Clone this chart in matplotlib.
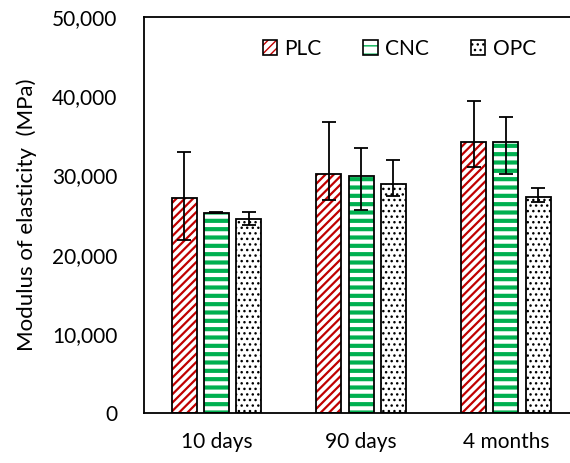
import matplotlib.pyplot as plt
from matplotlib.legend_handler import HandlerTuple
import numpy as np

# data
ages = ["10 days", "90 days", "4 months"]
series = ["PLC", "CNC", "OPC"]
plc = [27200, 30200, 34200]
cnc = [25300, 29900, 34250]
opc = [24550, 28950, 27250]
plc_lo = [5300, 3300, 3150]
plc_hi = [5800, 6600, 5200]
cnc_lo = [100, 4250, 4100]
cnc_hi = [100, 3600, 3100]
opc_lo = [850, 1600, 600]
opc_hi = [800, 3050, 1200]

plt.rcParams['font.family'] = ['Lato', 'DejaVu Sans']

fig = plt.figure(figsize=(5.7, 4.63), dpi=100)
ax = fig.add_axes([0.2526, 0.108, 0.762, 0.855])

x = np.arange(len(ages))
w = 0.173
step = 0.223

styles = [
	(plc, plc_lo, plc_hi, "#C00000", "////", 1.6),
	(cnc, cnc_lo, cnc_hi, "#00B050", "--", 3.0),
	(opc, opc_lo, opc_hi, "black", "...", 1.0),
]

handles = []
for i, (vals, lo, hi, col, hatch, hlw) in enumerate(styles):
	pos = x + (i - 1) * step
	plt.rcParams['hatch.linewidth'] = hlw
	ax.bar(pos, vals, w, color="white", edgecolor=col, hatch=hatch, linewidth=0, zorder=2)
	ax.bar(pos, vals, w, color="none", edgecolor="black", linewidth=1.3, zorder=3)
	ax.errorbar(pos, vals, yerr=[lo, hi], fmt="none", ecolor="black", elinewidth=1.3,
		capsize=5, capthick=1.3, zorder=4)
	fillp = plt.Rectangle((0, 0), 1, 1, facecolor="white", edgecolor=col, hatch=hatch, linewidth=0)
	edgep = plt.Rectangle((0, 0), 1, 1, facecolor="none", edgecolor="black", linewidth=1.2)
	handles.append((fillp, edgep))

ax.set_xlim(-0.5, 2.5)
ax.set_ylim(0, 50000)
ax.set_yticks(np.arange(0, 50001, 10000))
ax.set_yticklabels([f"{v:,}" for v in range(0, 50001, 10000)])
ax.set_xticks(x)
ax.set_xticklabels(ages)
ax.tick_params(length=0, labelsize=15)
ax.tick_params(axis="y", pad=19)
ax.tick_params(axis="x", pad=14)
ax.set_ylabel("Modulus of elasticity  (MPa)", fontsize=16, labelpad=11)
for s in ax.spines.values():
	s.set_linewidth(1.3)

ax.legend(handles, series, loc="center", bbox_to_anchor=(0.588, 0.92), ncol=3,
	frameon=False, fontsize=15, handlelength=0.7, handleheight=0.7, handletextpad=0.35,
	columnspacing=2.0, handler_map={tuple: HandlerTuple(ndivide=1)})

fig.savefig("out.png", dpi=100)
